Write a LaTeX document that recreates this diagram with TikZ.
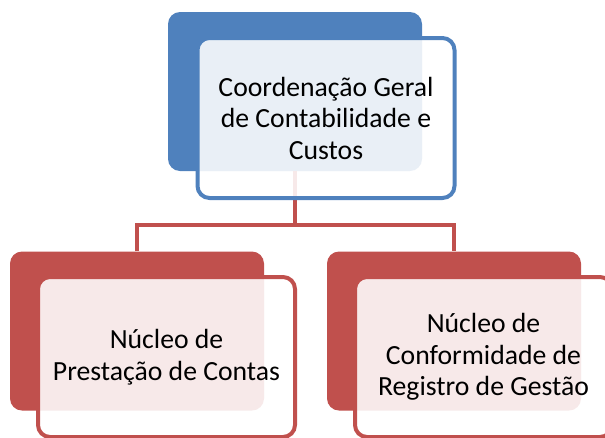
\documentclass[tikz,border=0pt]{standalone}
\usepackage{fontspec}
\setmainfont{Carlito}
\usetikzlibrary{positioning,calc}
\definecolor{chiefblue}{HTML}{4F81BD}
\definecolor{unitred}{HTML}{C0504D}

\begin{document}
\begin{tikzpicture}[
    x=1pt, y=-1pt,
    back/.style={rectangle, rounded corners=12pt, inner sep=0pt, minimum width=254pt, minimum height=159pt},
    front/.style={rectangle, rounded corners=12pt, line width=4pt, fill=white, fill opacity=0.88, text opacity=1,
      align=center, inner sep=0pt, minimum width=257pt, minimum height=160pt, font=\fontsize{27.7}{31.5}\selectfont},
    link/.style={draw=unitred, line width=4pt},
  ]
  \useasboundingbox (0,0) rectangle (605,437);
  \clip (0,0) rectangle (605,437);

  % back plates
  \node[back, fill=chiefblue] (coordB) at (295,91.5) {};
  \node[back, fill=unitred] (prestB) at (137,331) {};
  \node[back, fill=unitred] (confB) at (454,331) {};

  % connectors
  \coordinate (split) at (295,225);
  \draw[link] (coordB.south) -- (split);
  \draw[link] (prestB.north) |- (split) -| (confB.north);

  % front boxes
  \node[front, draw=chiefblue] (coord) at (326,118) {Coordenação Geral\\de Contabilidade e\\Custos};
  \node[front, draw=unitred] (prest) at (166.5,357) {Núcleo de\\Prestação de Contas};
  \node[front, draw=unitred] (conf) at (483.5,357) {Núcleo de\\Conformidade de\\Registro de Gestão};
\end{tikzpicture}
\end{document}
